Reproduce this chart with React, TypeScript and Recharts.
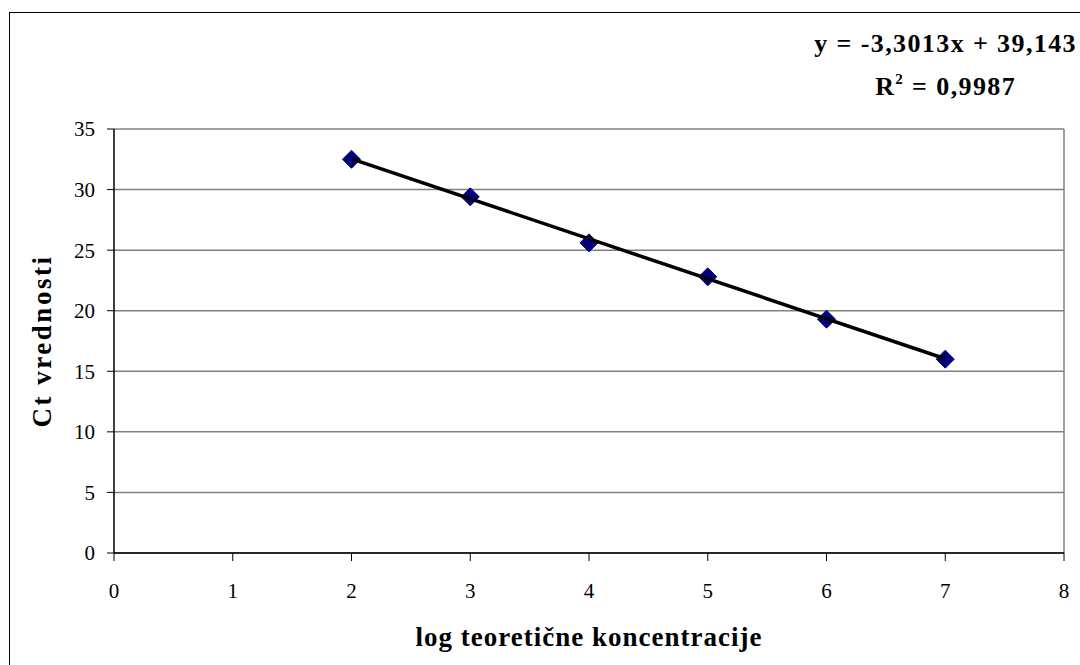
import React from "react";
import {
  ScatterChart,
  Scatter,
  XAxis,
  YAxis,
  CartesianGrid,
  ReferenceLine,
} from "recharts";

const logConc = [2, 3, 4, 5, 6, 7];
const ctValues = [32.5, 29.4, 25.6, 22.8, 19.3, 16.0];
const slope = -3.3013;
const intercept = 39.143;
const rSquared = "0,9987";
const trendX = [2, 7];
const xTicks = [0, 1, 2, 3, 4, 5, 6, 7, 8];
const yTicks = [0, 5, 10, 15, 20, 25, 30, 35];

const points = logConc.map((x, i) => ({ x, y: ctValues[i] }));
const trend = trendX.map((x) => ({ x, y: slope * x + intercept }));

const FONT = "'Liberation Serif', 'Times New Roman', serif";

const Diamond = (props: any) => {
  const { cx, cy } = props;
  const r = 9;
  return (
    <polygon
      points={`${cx},${cy - r} ${cx + r},${cy} ${cx},${cy + r} ${cx - r},${cy}`}
      fill="#000080"
      stroke="#000080"
      strokeWidth={1}
    />
  );
};

const NoShape = () => <g />;

export default function App() {
  return (
    <div
      style={{
        position: "absolute",
        left: 0,
        top: 0,
        width: 1080,
        height: 665,
        background: "#fff",
        fontFamily: FONT,
        overflow: "hidden",
      }}
    >
      <div
        style={{
          position: "absolute",
          left: 9,
          top: 12,
          width: 1080,
          height: 700,
          borderLeft: "1px solid #000",
          borderTop: "1px solid #000",
          boxSizing: "border-box",
        }}
      />
      <ScatterChart
        width={1080}
        height={665}
        margin={{ top: 129, right: 16, bottom: 0, left: 0 }}
        style={{ position: "absolute", left: 0, top: 0 }}
      >
        <CartesianGrid
          horizontal={true}
          vertical={false}
          stroke="#808080"
          strokeWidth={1.5}
        />
        <ReferenceLine x={8} stroke="#808080" strokeWidth={1.5} />
        <XAxis
          type="number"
          dataKey="x"
          domain={[0, 8]}
          ticks={xTicks}
          height={112}
          axisLine={{ stroke: "#000", strokeWidth: 1.5 }}
          tickLine={{ stroke: "#000", strokeWidth: 1 }}
          tickSize={8}
          tickMargin={22}
          tick={{ fill: "#000", fontSize: 21, fontFamily: FONT }}
          label={{
            value: "log teoretične koncentracije",
            position: "insideBottom",
            offset: 19,
            style: {
              fill: "#000",
              fontSize: 27,
              fontWeight: "bold",
              fontFamily: FONT,
              letterSpacing: 1,
            },
          }}
        />
        <YAxis
          type="number"
          dataKey="y"
          domain={[0, 35]}
          ticks={yTicks}
          width={114}
          axisLine={{ stroke: "#000", strokeWidth: 1.5 }}
          tickLine={{ stroke: "#000", strokeWidth: 1 }}
          tickSize={7}
          tickMargin={12}
          tick={{ fill: "#000", fontSize: 21, fontFamily: FONT }}
          label={{
            value: "Ct vrednosti",
            angle: -90,
            position: "insideLeft",
            offset: 41,
            style: {
              textAnchor: "middle",
              fill: "#000",
              fontSize: 27,
              fontWeight: "bold",
              fontFamily: FONT,
              letterSpacing: 2.5,
            },
          }}
        />
        <Scatter data={points} shape={Diamond} isAnimationActive={false} />
        <Scatter
          data={trend}
          line={{ stroke: "#000", strokeWidth: 3.5 }}
          shape={NoShape}
          isAnimationActive={false}
        />
      </ScatterChart>
      <div
        style={{
          position: "absolute",
          right: 3,
          top: 22,
          display: "inline-block",
          textAlign: "center",
          fontWeight: "bold",
          fontSize: 26,
          lineHeight: "43px",
          letterSpacing: 1.4,
          color: "#000",
          whiteSpace: "nowrap",
        }}
      >
        <div>
          y = {slope.toFixed(4).replace(".", ",")}x + {intercept.toFixed(3).replace(".", ",")}
        </div>
        <div>
          R<sup style={{ fontSize: 15, verticalAlign: "11px", lineHeight: 0 }}>2</sup> = {rSquared}
        </div>
      </div>
    </div>
  );
}
